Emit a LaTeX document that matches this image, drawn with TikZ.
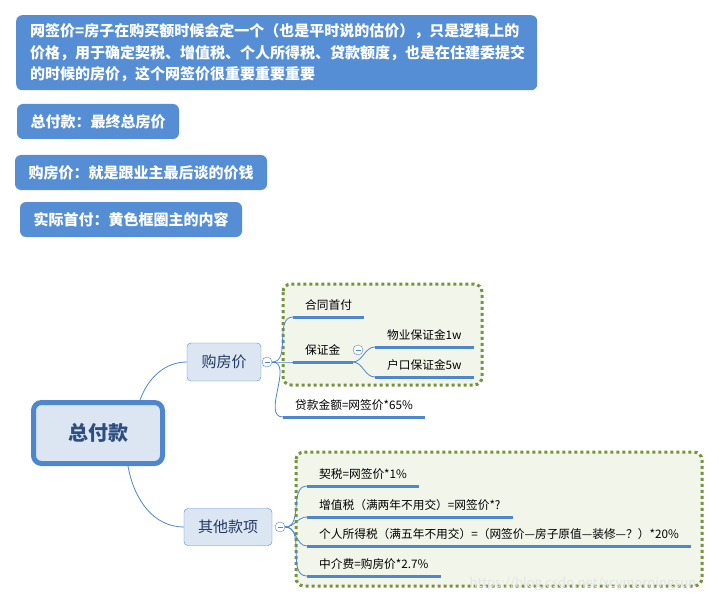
\documentclass[tikz,border=0pt]{standalone}
\usepackage{fontspec}
\setmainfont{Noto Sans CJK SC}
\definecolor{noteblue}{RGB}{85,142,213}
\definecolor{lineblue}{RGB}{79,135,207}
\definecolor{paleblue}{RGB}{220,230,242}
\definecolor{navy}{RGB}{31,56,100}
\definecolor{rootblue}{RGB}{44,78,130}
\definecolor{dotgreen}{RGB}{119,147,60}
\definecolor{groupfill}{RGB}{242,245,234}

\begin{document}
\begin{tikzpicture}[x=1pt,y=-1pt,
    note/.style={rectangle, fill=noteblue, rounded corners=6pt, text=white, font=\bfseries\fontsize{15}{21.5}\selectfont, minimum height=35pt},
    topic/.style={rectangle, draw=lineblue, fill=paleblue, rounded corners=4pt, text=navy, font=\fontsize{15}{18}\selectfont, minimum height=38pt},
    leaf/.style={anchor=south west, inner xsep=12pt, inner ysep=6pt, font=\fontsize{11.7}{14}\selectfont},
    uline/.style={draw=lineblue, line width=3pt},
    branch/.style={draw=lineblue, line width=0.8pt},
    fold/.style={circle, draw=lineblue, fill=white, inner sep=0pt, minimum size=10pt,
      path picture={\draw[lineblue] ([xshift=-2.5pt]path picture bounding box.center) -- ([xshift=2.5pt]path picture bounding box.center);}},
    group/.style={draw=dotgreen, fill=groupfill, line width=3pt, dash pattern=on 3pt off 3pt, rounded corners=8pt}]
  \useasboundingbox (0,0) rectangle (719,604);

  \node at (16,15) [note, anchor=north west, minimum width=521pt, minimum height=75pt, text width=493pt, inner xsep=14pt, align=left] (note1)
    {网签价=房子在购买额时候会定一个（也是平时说的估价），只是逻辑上的\\价格，用于确定契税、增值税、个人所得税、贷款额度，也是在住建委提交\\的时候的房价，这个网签价很重要重要重要};
  \node at (98,121.5)  [note, minimum width=162pt] (note2) {总付款：最终总房价};
  \node at (141,172.5) [note, minimum width=252pt] (note3) {购房价：就是跟业主最后谈的价钱};
  \node at (131,219.5) [note, minimum width=222pt] (note4) {实际首付：黄色框圈主的内容};

  \draw[group] (283,284) rectangle (482,385);
  \draw[group] (296,452) rectangle (702,586);

  \node at (98,433)  [rectangle, draw=lineblue, fill=paleblue, line width=5pt, rounded corners=8pt, minimum width=129pt, minimum height=61pt, text=rootblue, font=\bfseries\fontsize{20}{24}\selectfont] (total) {总付款};
  \node at (224,362) [topic, minimum width=74pt] (buy)   {购房价};
  \node at (228,527) [topic, minimum width=88pt, minimum height=37pt] (other) {其他款项};

  \node at (267,362) [fold] (buyfold) {};
  \node at (280,527) [fold] (otherfold) {};

  \node at (293,317) [leaf] (pay1)  {合同首付};
  \node at (293,362) [leaf] (dep)   {保证金};
  \node at (375,347) [leaf] (dep1)  {物业保证金1w};
  \node at (375,377) [leaf] (dep2)  {户口保证金5w};
  \node at (283,417) [leaf] (loan)  {贷款金额=网签价*65\%};
  \node at (358,350) [fold] (depfold) {};

  \node at (307,486) [leaf] (tax1) {契税=网签价*1\%};
  \node at (307,517) [leaf] (tax2) {增值税（满两年不用交）=网签价*?};
  \node at (307,546) [leaf] (tax3) {个人所得税（满五年不用交）=（网签价—房子原值—装修—？）*20\%};
  \node at (307,576) [leaf] (fee)  {中介费=购房价*2.7\%};

  \draw[branch] ([xshift=42pt]total.north) .. controls +(8,-22) and +(-22,0) .. (buy.west);
  \draw[branch] ([xshift=30pt]total.south) .. controls +(6,34) and +(-30,0) .. (other.west);

  \foreach \n in {pay1,dep,loan}
    \draw[branch] (buyfold.east) to[out=0,in=180] (\n.south west);
  \foreach \n in {dep1,dep2}
    \draw[branch] (dep.south east) to[out=0,in=180] (\n.south west);
  \foreach \n in {tax1,tax2,tax3,fee}
    \draw[branch] (otherfold.east) to[out=0,in=180] (\n.south west);

  \foreach \n in {pay1,dep,dep1,dep2,loan,tax1,tax2,tax3,fee}
    \draw[uline] (\n.south west) -- (\n.south east);

  \node at (583,584) [text=black!10, font=\fontsize{13}{15}\selectfont] (mark) {https://blog.csdn.net/xcymorningsun};
\end{tikzpicture}
\end{document}
